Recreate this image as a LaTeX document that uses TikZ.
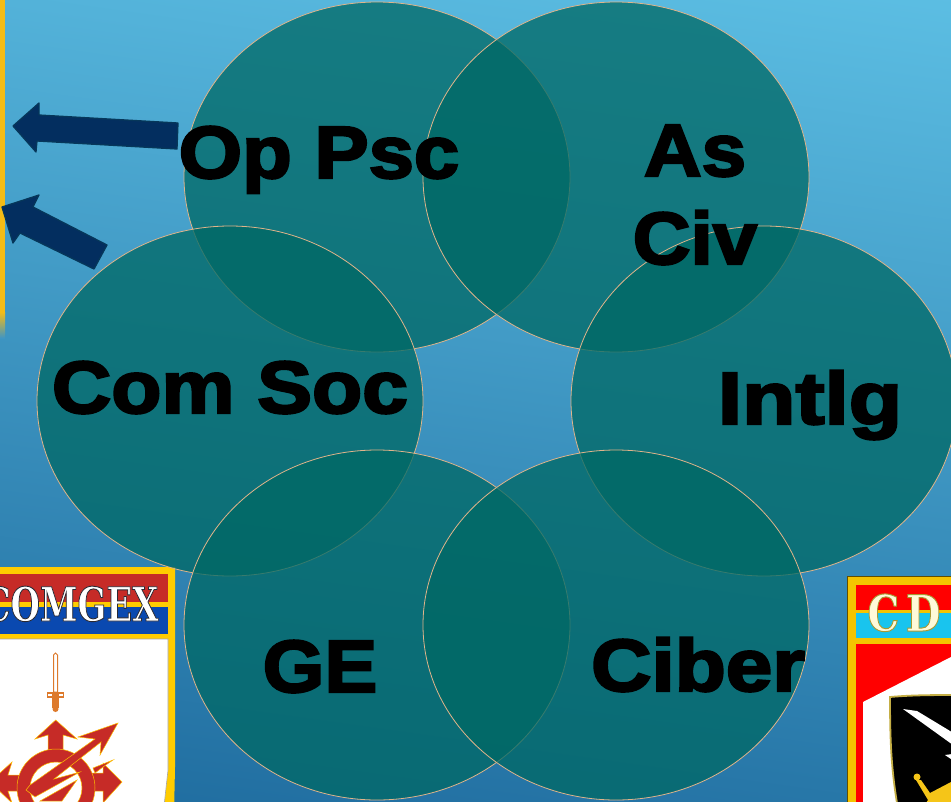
\documentclass[tikz,border=0pt]{standalone}
\usepackage{fontspec}
\usetikzlibrary{shapes.geometric}
\setmainfont{Liberation Sans}
\newfontfamily\lblfont[FakeBold=3]{Liberation Sans Bold}
\newfontfamily\slabfont{DejaVu Serif Bold}
\newfontfamily\slabcond{DejaVu Serif Condensed Bold}
\newcommand{\outlined}[3]{\special{pdf:code q 2 Tr #1 w #2 RG #3 rg}}
\newcommand{\outlinedend}{\special{pdf:code Q}}
\newcommand{\vtext}[2]{\scalebox{#1}[1]{#2}}
\definecolor{skytop}{HTML}{5CBEE3}
\definecolor{skybot}{HTML}{1F6C9F}
\definecolor{stripfade}{HTML}{4096C3}
\definecolor{vennfill}{HTML}{006864}
\definecolor{venndraw}{HTML}{E0B48A}
\definecolor{arrowfill}{HTML}{032E5F}
\definecolor{arrowline}{HTML}{06375A}
\definecolor{gold}{HTML}{FFCC00}
\definecolor{stripgold}{HTML}{F4BC16}
\definecolor{badgered}{HTML}{C62B27}
\definecolor{badgeblue}{HTML}{0A49B0}
\definecolor{swordor}{HTML}{DD7A2C}
\definecolor{cdred}{HTML}{FF0000}
\definecolor{cdcyan}{HTML}{19C4EE}
\definecolor{cdgold}{HTML}{F4C400}
\definecolor{shieldgold}{HTML}{C4AE45}
\definecolor{stargold}{HTML}{F5C518}
\tikzset{
  venn/.style={ellipse,draw=venndraw,line width=0.8pt,fill=vennfill,fill opacity=0.75,draw opacity=1,minimum width=386pt,minimum height=350pt,inner sep=0pt,outer sep=0pt},
  vlabel/.style={font=\lblfont\fontsize{74}{80}\selectfont,text=black,inner sep=0pt,align=center},
  bigarrow/.style={fill=arrowfill,draw=arrowline,line width=1.3pt,line join=round},
  redpart/.style={fill=badgered,draw=gold!85!orange,line width=0.5pt,line join=miter}
}
\begin{document}
\begin{tikzpicture}[x=1pt,y=-1pt]
\useasboundingbox (0,0) rectangle (951,801);
\shade[shading=axis,top color=skytop,bottom color=skybot,shading angle=-8] (-60,-60) rectangle (1011,861);
% left strip
\fill[stripgold] (0,0) rectangle (5,312);
\shade[top color=stripgold,bottom color=stripfade] (0,312) rectangle (5,338);
% arrows
\draw[bigarrow] (13,126) -- (39,103) -- (39,115) -- (178,123) -- (177,149) -- (37,141) -- (36,152) -- cycle;
\draw[bigarrow] (2,207) -- (39,195) -- (33,207) -- (107,245) -- (94,269) -- (20,233) -- (13,243) -- cycle;
% badges
\begin{scope}
\clip (-10,560) rectangle (960,815);
\fill[gold] (-5,567) -- (175,567) -- (175,767) -- (174,815) -- (-5,815) -- cycle;
\fill[badgered] (-5,574) rectangle (168,602);
\fill[gold] (-5,602) rectangle (168,607);
\fill[badgeblue] (-5,607) rectangle (168,634);
\fill[white] (-5,639) -- (168,639) -- (168,770) -- (163,815) -- (-5,815) -- cycle;
\draw[gray!70,line width=0.6pt] (-5,639) -- (168,639) -- (168,770) -- (163,815);
\node[font=\slabcond\fontsize{47}{47}\selectfont,anchor=base,inner sep=0pt] (comgex) at (71,621) {\vtext{0.80}{\outlined{0.9}{0.16 0.16 0.2}{1 1 1}COMGEX\outlinedend}};
% sword
\fill[white] (53.5,655) -- (55.5,653) -- (57.5,655) -- (57.5,692) -- (53.5,692) -- cycle;
\draw[swordor,line width=1pt] (53.5,655) -- (55.5,653) -- (57.5,655) -- (57.5,692) -- (53.5,692) -- cycle;
\draw[swordor,line width=1.2pt] (47.5,693) rectangle (63.5,697);
\fill[swordor] (52,693) rectangle (59,708);
\fill[swordor] (55.5,709) circle (3);
% emblem
\draw[redpart] (55.7,720) -- (77,739) -- (63,735) -- (63,752) -- (48,752) -- (48,735) -- (35,739) -- cycle;
\draw[redpart] (122,782) -- (103,803) -- (103,791) -- (88,791) -- (88,773) -- (103,773) -- (103,763) -- cycle;
\draw[redpart] (-10,782) -- (12,762) -- (8,775) -- (24,775) -- (24,791) -- (8,791) -- (12,803) -- cycle;
\draw[redpart] (113,760) -- (93,768) -- (95,773) -- (103,767) -- cycle;
\draw[redpart,even odd rule] (56,788) circle (39) (56,788) circle (26);
\draw[redpart] (118,723) -- (100,755) -- (101,742) -- (54,779) -- (80,772) -- (35,797) -- (26,790) -- (30,785) -- (95,739) -- (78,737) -- cycle;
\draw[redpart] (77,780) -- (40,801) -- (62,801) -- cycle;
% CD badge
\fill[cdgold] (847,576) rectangle (960,815);
\draw[black!60!cdgold,line width=0.6pt] (847,815) -- (847,576) -- (960,576);
\fill[cdred] (856,585) rectangle (960,610);
\fill[cdcyan] (856,613) rectangle (960,638);
\fill[cdred] (856,644) rectangle (960,815);
\fill[white] (863,702) -- (951,657) -- (960,657) -- (960,815) -- (863,815) -- cycle;
\fill[black] (890,697) .. controls (912,695) and (935,695) .. (960,695) -- (960,815) -- (899,815) .. controls (892,775) and (890,750) .. cycle;
\draw[shieldgold,line width=1.8pt] (899,815) .. controls (892,775) and (890,750) .. (890,697) .. controls (912,695) and (935,695) .. (960,695);
\fill[white] (903,709) -- (917,711) -- (960,737) -- (960,750) -- cycle;
\fill[white] (945,755) -- (960,753) -- (960,765) -- cycle;
\fill[stargold] (917,777) circle (3.5);
\fill[stargold] (916,780) -- (921,780) -- (930,793) -- (951,782) -- (960,782) -- (960,815) -- (918,815) -- (928,800) -- cycle;
\node[font=\slabfont\fontsize{50}{50}\selectfont,anchor=base,inner sep=0pt] (cdtext) at (904,631) {\vtext{0.8}{\outlined{1.0}{0.66 0.6 0.2}{1 0.98 0.85}C\,D\outlinedend}};
\end{scope}
% venn
\node[venn] (oppsc) at (377,177) {};
\node[venn] (ascivc) at (616,177) {};
\node[venn] (comsoc) at (230,401) {};
\node[venn] (intlgc) at (764,401) {};
\node[venn] (gec) at (377,625) {};
\node[venn] (cibc) at (616,625) {};
% labels
\node[vlabel,anchor=base] (t1) at (319,178) {\vtext{1.10}{Op Psc}};
\node[vlabel,anchor=base] (t2) at (695,176) {\vtext{1.08}{As}};
\node[vlabel,anchor=base] (t2b) at (695,264) {\vtext{1.08}{Civ}};
\node[vlabel,anchor=base] (t3) at (230,413) {\vtext{1.11}{Com Soc}};
\node[vlabel,anchor=base] (t4) at (810,424) {\vtext{1.18}{Intlg}};
\node[vlabel,anchor=base] (t5) at (320,692) {\vtext{1.07}{GE}};
\node[vlabel,anchor=base] (t6) at (698,691) {\vtext{1.13}{Ciber}};
\end{tikzpicture}
\end{document}
